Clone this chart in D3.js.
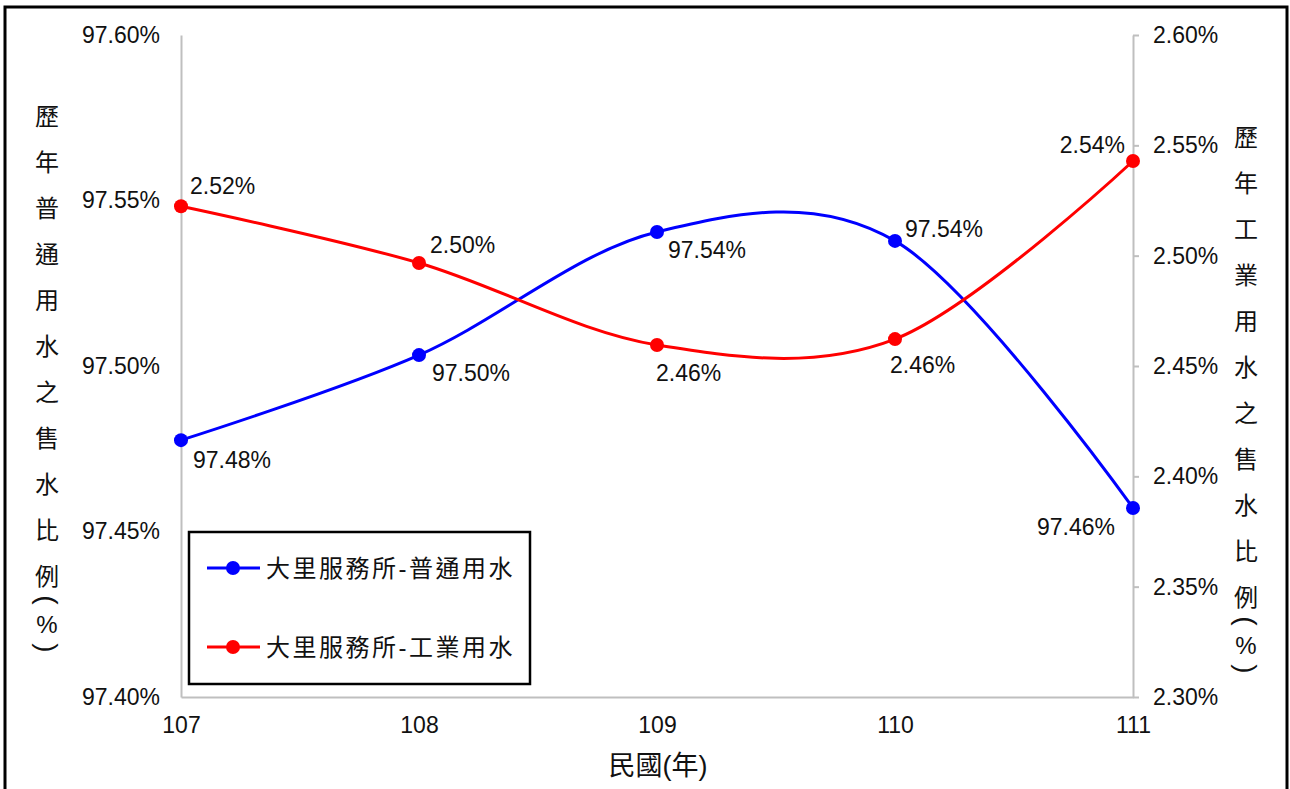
<!DOCTYPE html>
<html>
<head>
<meta charset="utf-8">
<script src="https://cdn.jsdelivr.net/npm/d3@7"></script>
<style>
  body { margin: 0; background: #fff; }
  svg text { font-family: "Liberation Sans", Arial, "Noto Sans CJK TC", sans-serif; fill: #111; }
</style>
</head>
<body>
<svg id="chart"></svg>
<script>
const years = ["107", "108", "109", "110", "111"];
const generalWater = [97.4776, 97.5033, 97.5405, 97.5378, 97.4571];
const industrialWater = [2.5224, 2.4967, 2.4595, 2.4622, 2.5429];
const leftTicks = [97.40, 97.45, 97.50, 97.55, 97.60];
const rightTicks = [2.30, 2.35, 2.40, 2.45, 2.50, 2.55, 2.60];
const seriesNames = ["大里服務所-普通用水", "大里服務所-工業用水"];
const leftTitle = "歷年普通用水之售水比例(%)";
const rightTitle = "歷年工業用水之售水比例(%)";
const xTitle = "民國(年)";

// label offsets relative to each point (dx, dy, anchor)
const blueLabelPos = [[12, 20, "start"], [13, 18, "start"], [11, 18, "start"], [10, -12, "start"], [-18, 19, "end"]];
const redLabelPos = [[9, -20, "start"], [11, -18, "start"], [-1, 28, "start"], [-5, 26, "start"], [-8, -16, "end"]];

const width = 1290, height = 789;
const svg = d3.select("#chart").attr("width", width).attr("height", height);

// outer frame
svg.append("rect")
  .attr("x", 5).attr("y", 7).attr("width", 1282).attr("height", 790)
  .attr("fill", "none").attr("stroke", "#000").attr("stroke-width", 3);

const x = d3.scalePoint().domain(years).range([181, 1133]);
const yL = d3.scaleLinear().domain([97.40, 97.60]).range([697, 35]);
const yR = d3.scaleLinear().domain([2.30, 2.60]).range([697, 35]);
const pct = d => d3.format(".2f")(d) + "%";

const axisColor = "#bfbfbf";

// left axis
const gL = svg.append("g").attr("transform", "translate(181,0)")
  .call(d3.axisLeft(yL).tickValues(leftTicks).tickSize(0).tickPadding(21).tickFormat(pct));
// right axis
const gR = svg.append("g").attr("transform", "translate(1133,0)")
  .call(d3.axisRight(yR).tickValues(rightTicks).tickSizeInner(6).tickSizeOuter(0).tickPadding(14).tickFormat(pct));
// bottom axis
const gB = svg.append("g").attr("transform", "translate(0,697)")
  .call(d3.axisBottom(x).tickSize(0).tickPadding(20));

[gL, gR, gB].forEach(g => {
  g.select(".domain").attr("stroke", axisColor).attr("stroke-width", 2);
  g.selectAll(".tick line").attr("stroke", axisColor).attr("stroke-width", 2);
  g.selectAll(".tick text").attr("font-size", 23).attr("fill", "#111")
    .attr("font-family", "'Liberation Sans', Arial, sans-serif");
});

// vertical axis titles, one character per row
function verticalTitle(text, cx, startY) {
  const g = svg.append("g").attr("font-size", 24);
  const chars = Array.from(text);
  let y = startY;
  chars.forEach((ch, i) => {
    const half = /[()%]/.test(ch);
    if (i > 0) y += half || /[()%]/.test(chars[i - 1]) ? 24 : 46;
    const t = g.append("text")
      .attr("x", cx).attr("y", y)
      .attr("text-anchor", "middle")
      .attr("dominant-baseline", "central")
      .attr("fill", "#222")
      .text(ch);
    if (ch === "(" || ch === ")") t.attr("font-size", 28).attr("transform", `rotate(90,${cx},${y})`);
  });
}
verticalTitle(leftTitle, 47, 116);
verticalTitle(rightTitle, 1246, 137);

// x title
svg.append("text")
  .attr("x", 658).attr("y", 766)
  .attr("text-anchor", "middle").attr("dominant-baseline", "central")
  .attr("font-size", 27).attr("fill", "#222")
  .text(xTitle);

const curve = d3.curveCardinal.tension(0);

function drawSeries(values, scale, color, labelPos) {
  const line = d3.line().x((d, i) => x(years[i])).y(d => scale(d)).curve(curve);
  svg.append("path").datum(values)
    .attr("d", line).attr("fill", "none")
    .attr("stroke", color).attr("stroke-width", 3);
  svg.append("g").selectAll("circle").data(values).join("circle")
    .attr("cx", (d, i) => x(years[i])).attr("cy", d => scale(d))
    .attr("r", 7).attr("fill", color);
  svg.append("g").selectAll("text").data(values).join("text")
    .attr("x", (d, i) => x(years[i]) + labelPos[i][0])
    .attr("y", (d, i) => scale(d) + labelPos[i][1])
    .attr("text-anchor", (d, i) => labelPos[i][2])
    .attr("dominant-baseline", "central")
    .attr("font-size", 23)
    .text(d => pct(d));
}

drawSeries(generalWater, yL, "#0000ff", blueLabelPos);
drawSeries(industrialWater, yR, "#ff0000", redLabelPos);

// legend
const legend = svg.append("g");
legend.append("rect")
  .attr("x", 189).attr("y", 532).attr("width", 341).attr("height", 152)
  .attr("fill", "#fff").attr("stroke", "#000").attr("stroke-width", 2.5);
const legendColors = ["#0000ff", "#ff0000"];
const legendY = d3.scalePoint().domain(seriesNames).range([568, 647]);
seriesNames.forEach((name, i) => {
  const ly = legendY(name);
  legend.append("line").attr("x1", 207).attr("x2", 260).attr("y1", ly).attr("y2", ly)
    .attr("stroke", legendColors[i]).attr("stroke-width", 3);
  legend.append("circle").attr("cx", 233).attr("cy", ly).attr("r", 7).attr("fill", legendColors[i]);
  legend.append("text").attr("x", 266).attr("y", ly)
    .attr("dominant-baseline", "central").attr("font-size", 24)
    .attr("letter-spacing", 2.5).attr("fill", "#222")
    .text(name);
});
</script>
</body>
</html>
